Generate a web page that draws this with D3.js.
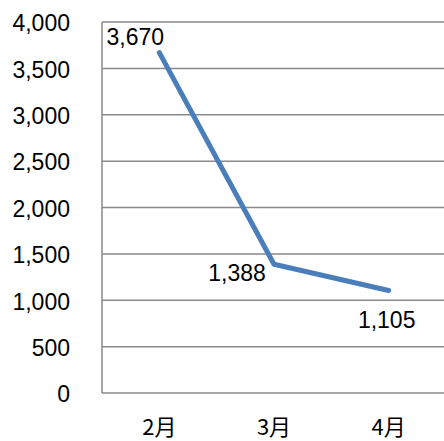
<!DOCTYPE html>
<html><head><meta charset="utf-8">
<script src="https://cdn.jsdelivr.net/npm/d3@7"></script>
<style>body{margin:0;background:#fff}svg{display:block}</style>
</head><body>
<script>
const categories = ["2月","3月","4月"];
const values = [3670,1388,1105];
const yTicks = [0,500,1000,1500,2000,2500,3000,3500,4000];

(function(){
const W=444,H=441;
const svg=d3.select("body").append("svg").attr("width",W).attr("height",H);
const pLeft=102,pRight=446,pTop=22,pBottom=393;
const x=d3.scaleBand().domain(categories).range([pLeft,pRight]);
const y=d3.scaleLinear().domain([0,4000]).range([pBottom,pTop]);
const font="'Liberation Sans', Arial, sans-serif";

// gridlines
svg.append("g").selectAll("line").data(yTicks).join("line")
  .attr("x1",pLeft).attr("x2",W).attr("y1",d=>y(d)).attr("y2",d=>y(d))
  .attr("stroke","#898989").attr("stroke-width",1.5);
svg.append("line").attr("x1",pLeft).attr("x2",pLeft).attr("y1",pTop).attr("y2",pBottom)
  .attr("stroke","#898989").attr("stroke-width",1.5);

// y axis labels
const ya=d3.axisLeft(y).tickValues(yTicks).tickSize(0).tickPadding(0).tickFormat(d3.format(","));
const gy=svg.append("g").attr("transform","translate(70,0)").call(ya);
gy.select(".domain").remove();
gy.selectAll("text").attr("font-family",font).attr("font-size",23).attr("fill","#000").attr("dy","0.38em");

// x axis labels
const xa=d3.axisBottom(x).tickSize(0).tickPadding(0);
const gx=svg.append("g").attr("transform","translate(0,435)").call(xa);
gx.select(".domain").remove();
gx.selectAll("text").attr("font-family","'Noto Sans CJK SC', sans-serif").attr("font-size",22).attr("fill","#000").attr("dy","0");

// line
const data=categories.map((c,i)=>({c,v:values[i]}));
const cx=d=>x(d.c)+x.bandwidth()/2;
svg.append("path").datum(data)
  .attr("d",d3.line().x(cx).y(d=>y(d.v)))
  .attr("fill","none").attr("stroke","#4a7ebb").attr("stroke-width",5)
  .attr("stroke-linecap","round").attr("stroke-linejoin","round");

// data labels
const offs=[{dx:-24,dy:-8},{dx:-37,dy:17},{dx:-2,dy:37}];
svg.append("g").selectAll("text").data(data).join("text")
  .attr("x",(d,i)=>cx(d)+offs[i].dx).attr("y",(d,i)=>y(d.v)+offs[i].dy)
  .attr("text-anchor","middle")
  .attr("font-family",font).attr("font-size",23).attr("fill","#000")
  .text(d=>d3.format(",")(d.v));
})();
</script>
</body></html>
